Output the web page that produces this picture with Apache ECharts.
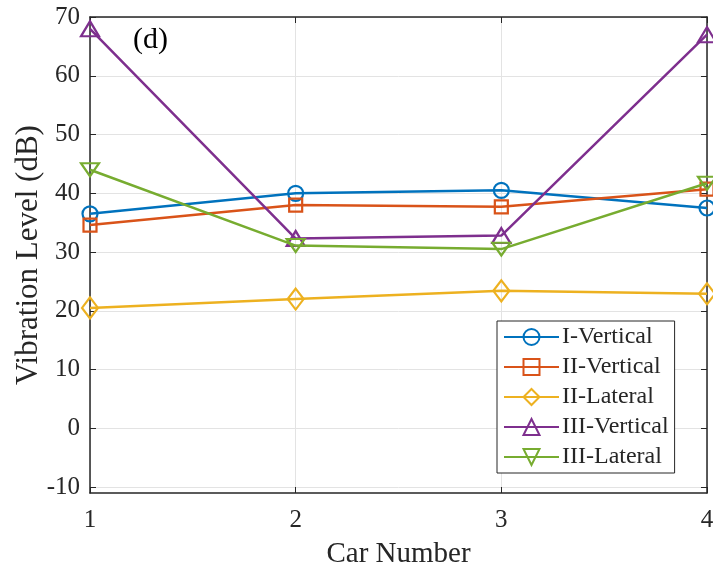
<!DOCTYPE html>
<html>
<head>
<meta charset="utf-8">
<script src="https://cdn.jsdelivr.net/npm/echarts@6/dist/echarts.min.js"></script>
<style>
  html, body { margin: 0; padding: 0; background: #fff; }
  #chart { width: 713px; height: 565px; }
</style>
</head>
<body>
<div id="chart"></div>
<script>
// 数据
var carNumbers = [1, 2, 3, 4];
var seriesNames = ['I-Vertical', 'II-Vertical', 'II-Lateral', 'III-Vertical', 'III-Lateral'];
var iVertical = [36.5, 40.0, 40.5, 37.5];
var iiVertical = [34.6, 38.0, 37.7, 40.7];
var iiLateral = [20.5, 22.0, 23.4, 22.9];
var iiiVertical = [68.0, 32.3, 32.8, 67.0];
var iiiLateral = [44.0, 31.1, 30.5, 41.7];
var yTicks = [-10, 0, 10, 20, 30, 40, 50, 60, 70];

var font = 'Liberation Serif';
var textColor = '#262626';
var colors = ['#0072BD', '#D95319', '#EDB120', '#7E2F8E', '#77AC30'];
var symbols = ['circle', 'rect', 'diamond', 'triangle', 'path://M0,0 L20,0 L10,17.3 Z'];
var sizes = [15, 13, [16, 21], [18, 15], [18, 15]];
var allData = [iVertical, iiVertical, iiLateral, iiiVertical, iiiLateral];

document.addEventListener('DOMContentLoaded', function () {
  var myChart = echarts.init(document.getElementById('chart'));

  var series = allData.map(function (vals, i) {
    return {
      name: seriesNames[i],
      type: 'line',
      data: vals.map(function (v, j) { return [carNumbers[j], v]; }),
      symbol: symbols[i],
      symbolSize: sizes[i],
      symbolKeepAspect: true,
      showAllSymbol: true,
      lineStyle: { color: colors[i], width: 2.5 },
      itemStyle: { color: 'rgba(255,255,255,0)', borderColor: colors[i], borderWidth: 2.2 },
      emphasis: { disabled: true },
      z: 3 + i
    };
  });

  var option = {
    animation: false,
    backgroundColor: '#fff',
    title: {
      text: '(d)',
      left: 128,
      top: 20,
      textStyle: { fontFamily: font, fontSize: 30, fontWeight: 'normal', color: '#000' }
    },
    legend: {
      orient: 'vertical',
      left: 497,
      top: 321,
      padding: [4, 6, 4, 6],
      itemWidth: 55,
      itemHeight: 20,
      itemGap: 6,
      borderColor: '#262626',
      borderWidth: 1,
      backgroundColor: '#fff',
      data: seriesNames,
      textStyle: { fontFamily: font, fontSize: 24, color: textColor, lineHeight: 23, padding: [0, 0, 0, -2] }
    },
    grid: { left: 90, right: 6, top: 17, bottom: 72, containLabel: false, outerBoundsMode: 'none' },
    xAxis: [{
      type: 'value',
      min: 1, max: 4, interval: 1,
      name: 'Car Number',
      nameLocation: 'middle',
      nameGap: 47,
      nameMoveOverlap: false,
      nameTextStyle: { fontFamily: font, fontSize: 29, color: textColor },
      axisLine: { show: true, onZero: false, lineStyle: { color: '#262626', width: 1.5 } },
      axisTick: { inside: true, length: 6, lineStyle: { color: '#262626' } },
      axisLabel: { fontFamily: font, fontSize: 25, color: textColor, margin: 15 },
      splitLine: { show: true, lineStyle: { color: '#e3e3e3', width: 1 } }
    }, {
      type: 'value',
      position: 'top',
      min: 1, max: 4, interval: 1,
      axisLine: { show: true, onZero: false, lineStyle: { color: '#262626', width: 1.5 } },
      axisTick: { inside: true, length: 6, lineStyle: { color: '#262626' } },
      axisLabel: { show: false },
      splitLine: { show: false }
    }],
    yAxis: [{
      type: 'value',
      min: -11, max: 70,
      name: 'Vibration Level (dB)',
      nameLocation: 'middle',
      nameGap: 46,
      nameMoveOverlap: false,
      nameTextStyle: { fontFamily: font, fontSize: 31, color: textColor },
      axisLine: { show: true, onZero: false, lineStyle: { color: '#262626', width: 1.5 } },
      axisTick: { inside: true, length: 6, lineStyle: { color: '#262626' }, customValues: yTicks },
      axisLabel: { fontFamily: font, fontSize: 25, color: textColor, margin: 10, customValues: yTicks },
      splitLine: { show: true, lineStyle: { color: '#e3e3e3', width: 1 } }
    }, {
      type: 'value',
      position: 'right',
      min: -11, max: 70,
      axisLine: { show: true, onZero: false, lineStyle: { color: '#262626', width: 1.5 } },
      axisTick: { inside: true, length: 6, lineStyle: { color: '#262626' }, customValues: yTicks },
      axisLabel: { show: false, customValues: yTicks },
      splitLine: { show: false }
    }],
    series: series
  };

  myChart.setOption(option);

  window.addEventListener('resize', function () {
    myChart.resize();
  });
});
</script>
</body>
</html>
